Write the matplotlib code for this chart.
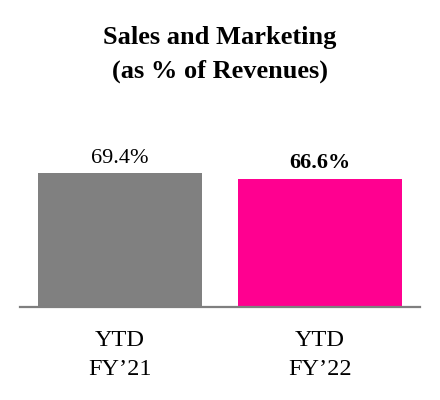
import matplotlib.pyplot as plt

# Données
categories = ['YTD\nFY\u201921', 'YTD\nFY\u201922']
valeurs = [69.4, 66.6]
etiquettes = ['69.4%', '66.6%']
couleurs = ['#808080', '#ff0090']
poids = ['normal', 'bold']

plt.rcParams['font.family'] = ['Liberation Serif', 'DejaVu Serif']

fig = plt.figure(figsize=(4.4, 4.0), dpi=100)
ax = fig.add_axes([20/440, 93/400, 400/440, 200/400])

x = range(len(valeurs))
bars = ax.bar(x, valeurs, width=0.82, color=couleurs)

for b, lab, w in zip(bars, etiquettes, poids):
    ax.text(b.get_x() + b.get_width()/2, b.get_height() + 3, lab,
            ha='center', va='bottom', fontsize=16, fontweight=w)

ax.set_xlim(-0.5, 1.5)
ax.set_ylim(0, 200/1.925)
ax.set_xticks(list(x))
ax.set_xticklabels(categories, fontsize=17.5, linespacing=1.5)
ax.tick_params(axis='x', length=0, pad=16.5)
ax.set_yticks([])
for s in ['top', 'right', 'left']:
    ax.spines[s].set_visible(False)
ax.spines['bottom'].set_color('#7f7f7f')
ax.spines['bottom'].set_linewidth(1.6)

fig.text(0.5, 1 - 54.5/400, 'Sales and Marketing\n(as % of Revenues)',
         ha='center', va='center', fontsize=19, fontweight='bold',
         linespacing=1.6)

fig.savefig('out.png', dpi=100)
